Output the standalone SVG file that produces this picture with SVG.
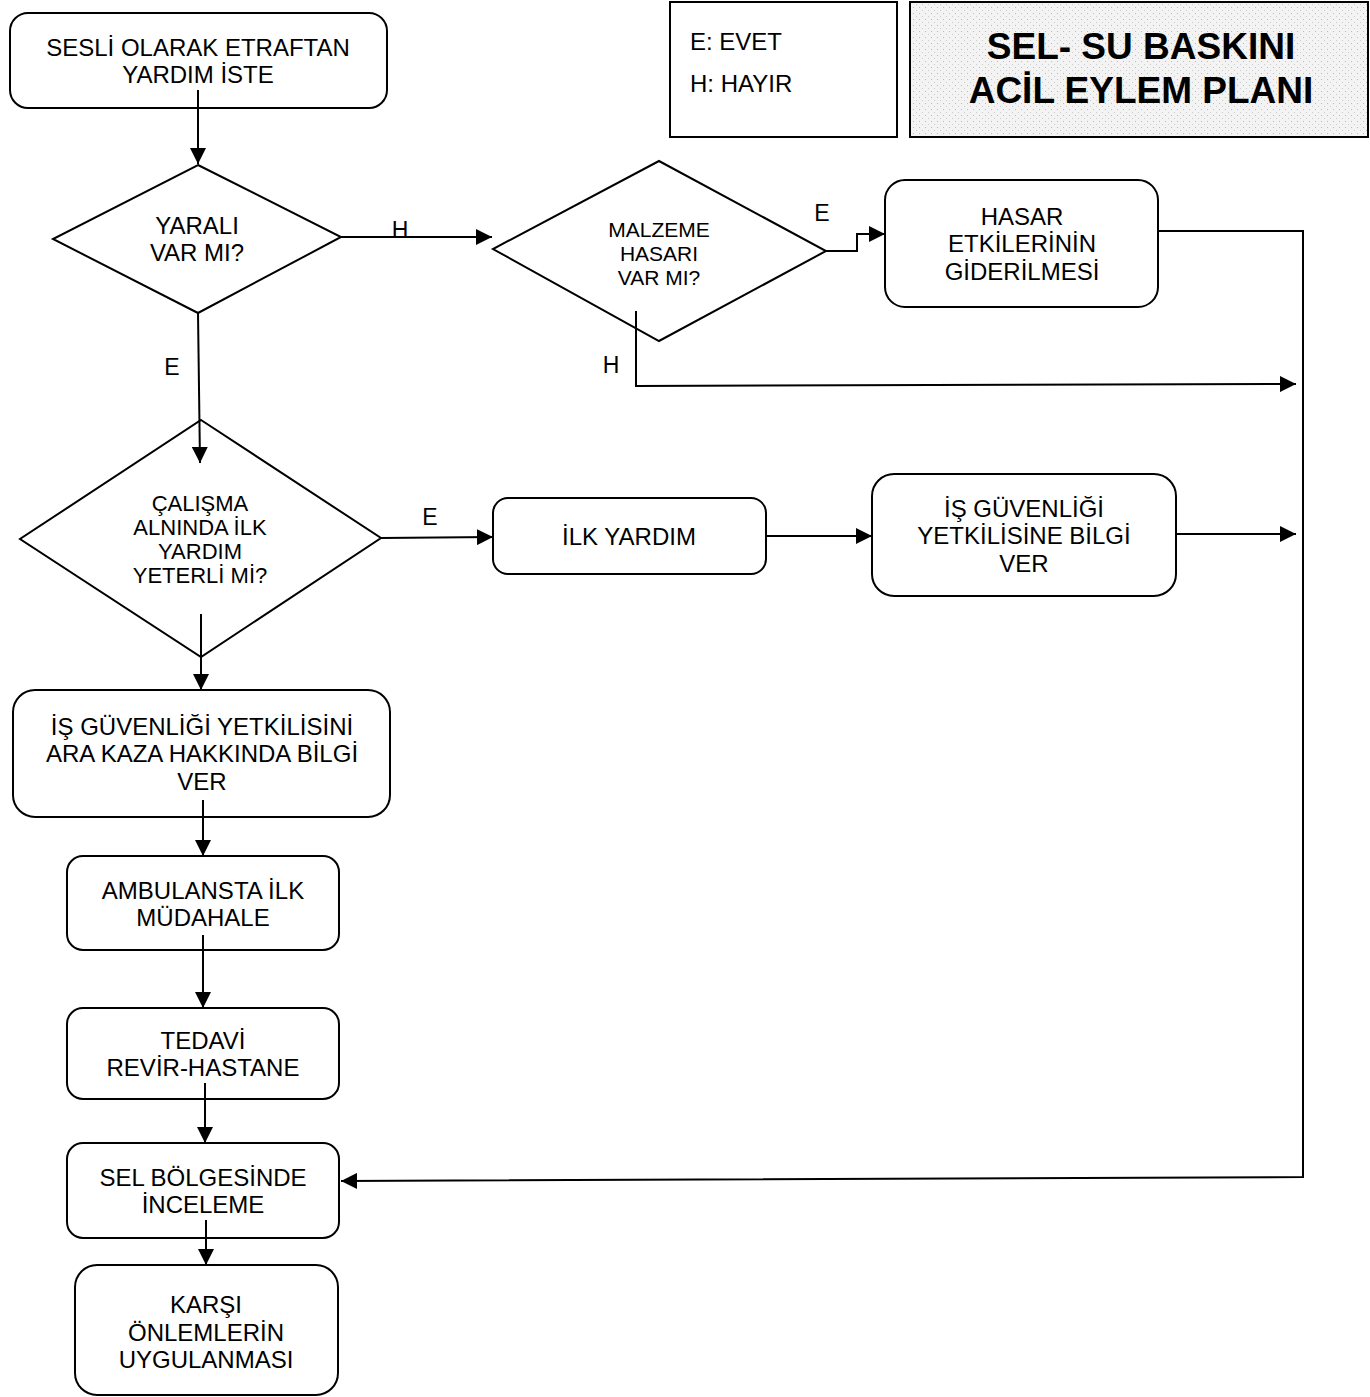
<svg xmlns="http://www.w3.org/2000/svg" width="1370" height="1397" viewBox="0 0 1370 1397">
<style>
.box{fill:#fff;stroke:#000;stroke-width:2}
.dia{fill:#fff;stroke:#000;stroke-width:2}
.t{font-family:"Liberation Sans",Arial,sans-serif;font-size:24px;fill:#000;text-anchor:middle}
.ts{font-family:"Liberation Sans",Arial,sans-serif;font-size:21px;fill:#000;text-anchor:middle}
.lbl{font-family:"Liberation Sans",Arial,sans-serif;font-size:23px;fill:#000}
.title{font-family:"Liberation Sans",Arial,sans-serif;font-size:37px;font-weight:bold;fill:#000;text-anchor:middle}
.ln{fill:none;stroke:#000;stroke-width:2}
</style>
<defs>
<marker id="ah" viewBox="0 0 10 10" refX="10" refY="5" markerWidth="16" markerHeight="16" markerUnits="userSpaceOnUse" orient="auto">
<path d="M0,0 L10,5 L0,10 z" fill="#000"/>
</marker>
<pattern id="stip" width="6" height="6" patternUnits="userSpaceOnUse">
<rect width="6" height="6" fill="#f3f3f3"/>
<rect x="1" y="1" width="1" height="1" fill="#bbb"/>
<rect x="4" y="4" width="1" height="1" fill="#ccc"/>
</pattern>
</defs>
<rect width="1370" height="1397" fill="#fff"/>

<g id="legend">
<rect x="670" y="2" width="227" height="135" class="box"/>
<text x="690" y="50" class="lbl" style="font-size:24px">E: EVET</text>
<text x="690" y="92" class="lbl" style="font-size:24px">H: HAYIR</text>
</g>
<g id="title">
<rect x="910" y="2" width="458" height="135" fill="url(#stip)" stroke="#000" stroke-width="2"/>
<text x="1141" y="59" class="title">SEL- SU BASKINI</text>
<text x="1141" y="103" class="title">ACİL EYLEM PLANI</text>
</g>

<g id="connectors">
<line x1="198" y1="90" x2="198" y2="164" class="ln" marker-end="url(#ah)"/>
<line x1="341" y1="237" x2="492" y2="237" class="ln" marker-end="url(#ah)"/>
<polyline points="826,251 857,251 857,234 885,234" class="ln" marker-end="url(#ah)"/>
<polyline points="1158,231 1303,231 1303,1177 341,1181" class="ln" marker-end="url(#ah)"/>
<polyline points="636,311 636,386 1296,384" class="ln" marker-end="url(#ah)"/>
<line x1="198" y1="313" x2="200" y2="463" class="ln" marker-end="url(#ah)"/>
<line x1="381" y1="538" x2="493" y2="537" class="ln" marker-end="url(#ah)"/>
<line x1="766" y1="536" x2="872" y2="536" class="ln" marker-end="url(#ah)"/>
<line x1="1176" y1="534" x2="1296" y2="534" class="ln" marker-end="url(#ah)"/>
<line x1="201" y1="614" x2="201" y2="690" class="ln" marker-end="url(#ah)"/>
<line x1="203" y1="800" x2="203" y2="856" class="ln" marker-end="url(#ah)"/>
<line x1="203" y1="935" x2="203" y2="1008" class="ln" marker-end="url(#ah)"/>
<line x1="205" y1="1083" x2="205" y2="1143" class="ln" marker-end="url(#ah)"/>
<line x1="206" y1="1220" x2="206" y2="1265" class="ln" marker-end="url(#ah)"/>
<text x="400" y="238" class="lbl" text-anchor="middle">H</text>
<text x="822" y="221" class="lbl" text-anchor="middle">E</text>
<text x="611" y="373" class="lbl" text-anchor="middle">H</text>
<text x="172" y="375" class="lbl" text-anchor="middle">E</text>
<text x="430" y="525" class="lbl" text-anchor="middle">E</text>
</g>

<g id="n1">
<rect x="10" y="13" width="377" height="95" rx="18" class="box" style="fill:none"/>
<text x="198" y="56" class="t">SESLİ OLARAK ETRAFTAN</text>
<text x="198" y="83" class="t">YARDIM İSTE</text>
</g>
<g id="d1">
<polygon points="198,165 341,237 198,313 53,239" class="dia"/>
<text x="197" y="234" class="t">YARALI</text>
<text x="197" y="261" class="t">VAR MI?</text>
</g>
<g id="d2">
<polygon points="659,161 826,251 659,341 493,249" class="dia" style="fill:none"/>
<text x="659" y="237" class="ts">MALZEME</text>
<text x="659" y="261" class="ts">HASARI</text>
<text x="659" y="285" class="ts">VAR MI?</text>
</g>
<g id="n_hasar">
<rect x="885" y="180" width="273" height="127" rx="20" class="box"/>
<text x="1022" y="225" class="t">HASAR</text>
<text x="1022" y="252" class="t">ETKİLERİNİN</text>
<text x="1022" y="280" class="t">GİDERİLMESİ</text>
</g>
<g id="d3">
<polygon points="201,420 381,538 201,657 20,539" class="dia" style="fill:none"/>
<text x="200" y="511" class="ts" style="font-size:22px">ÇALIŞMA</text>
<text x="200" y="535" class="ts" style="font-size:22px">ALNINDA İLK</text>
<text x="200" y="559" class="ts" style="font-size:22px">YARDIM</text>
<text x="200" y="583" class="ts" style="font-size:22px">YETERLİ Mİ?</text>
</g>
<g id="n_ilkyardim">
<rect x="493" y="498" width="273" height="76" rx="15" class="box"/>
<text x="629" y="545" class="t">İLK YARDIM</text>
</g>
<g id="n_isg1">
<rect x="872" y="474" width="304" height="122" rx="22" class="box"/>
<text x="1024" y="517" class="t">İŞ GÜVENLİĞİ</text>
<text x="1024" y="544" class="t">YETKİLİSİNE BİLGİ</text>
<text x="1024" y="572" class="t">VER</text>
</g>
<g id="n_isg2">
<rect x="13" y="690" width="377" height="127" rx="22" class="box" style="fill:none"/>
<text x="202" y="735" class="t">İŞ GÜVENLİĞİ YETKİLİSİNİ</text>
<text x="202" y="762" class="t">ARA KAZA HAKKINDA BİLGİ</text>
<text x="202" y="790" class="t">VER</text>
</g>
<g id="n_ambulans">
<rect x="67" y="856" width="272" height="94" rx="16" class="box" style="fill:none"/>
<text x="203" y="899" class="t">AMBULANSTA İLK</text>
<text x="203" y="926" class="t">MÜDAHALE</text>
</g>
<g id="n_tedavi">
<rect x="67" y="1008" width="272" height="91" rx="16" class="box" style="fill:none"/>
<text x="203" y="1049" class="t">TEDAVİ</text>
<text x="203" y="1076" class="t">REVİR-HASTANE</text>
</g>
<g id="n_sel">
<rect x="67" y="1143" width="272" height="95" rx="16" class="box" style="fill:none"/>
<text x="203" y="1186" class="t">SEL BÖLGESİNDE</text>
<text x="203" y="1213" class="t">İNCELEME</text>
</g>
<g id="n_karsi">
<rect x="75" y="1265" width="263" height="130" rx="22" class="box"/>
<text x="206" y="1313" class="t">KARŞI</text>
<text x="206" y="1341" class="t">ÖNLEMLERİN</text>
<text x="206" y="1368" class="t">UYGULANMASI</text>
</g>
</svg>
